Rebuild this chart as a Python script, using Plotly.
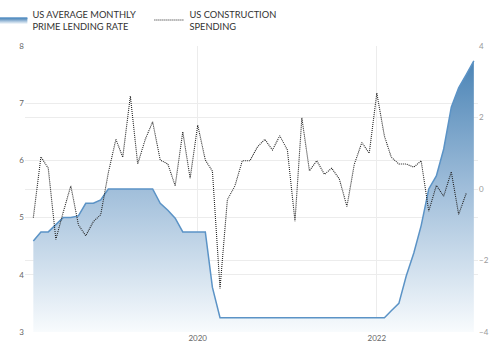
import pandas as pd
import plotly.graph_objects as go

# Monthly dates (Mar 2018 .. Feb 2023)
prime_dates = pd.date_range("2018-03-01", "2023-02-01", freq="MS")
constr_dates = pd.date_range("2018-03-01", "2023-01-01", freq="MS")

prime_rate = [
    4.59, 4.75, 4.75, 4.88, 5.00, 5.00, 5.03, 5.25, 5.25, 5.31,
    5.50, 5.50, 5.50, 5.50, 5.50, 5.50, 5.50, 5.25, 5.13, 4.99, 4.75, 4.75,
    4.75, 4.75, 3.78, 3.25, 3.25, 3.25, 3.25, 3.25, 3.25, 3.25, 3.25, 3.25,
    3.25, 3.25, 3.25, 3.25, 3.25, 3.25, 3.25, 3.25, 3.25, 3.25, 3.25, 3.25,
    3.25, 3.25, 3.37, 3.50, 3.98, 4.38, 4.86, 5.50, 5.73, 6.20, 6.93, 7.27,
    7.50, 7.74,
]

construction = [
    -0.80, 0.90, 0.58, -1.41, -0.65, 0.09, -1.00, -1.31, -0.91, -0.72,
    0.45, 1.39, 0.89, 2.60, 0.70, 1.39, 1.88, 0.81, 0.70, 0.09, 1.60, 0.30,
    1.79, 0.81, 0.50, -2.78, -0.30, 0.09, 0.79, 0.79, 1.18, 1.39, 1.09, 1.49,
    1.09, -0.90, 1.99, 0.51, 0.79, 0.41, 0.58, 0.28, -0.49, 0.69, 1.30, 1.00,
    2.68, 1.48, 0.89, 0.70, 0.70, 0.61, 0.79, -0.62, 0.10, -0.20, 0.48, -0.71,
    -0.12,
]

prime_name = "US AVERAGE MONTHLY<br>PRIME LENDING RATE"
constr_name = "US CONSTRUCTION<br>SPENDING"

fig = go.Figure()
fig.add_trace(go.Scatter(
    x=prime_dates, y=prime_rate, name=prime_name, mode="lines",
    line=dict(color="#5b93c6", width=1.5),
    fill="tozeroy",
    fillgradient=dict(
        type="vertical", start=3, stop=8,
        colorscale=[[0, "rgba(248,251,253,1)"], [0.5, "rgba(160,190,218,1)"], [1, "rgba(66,126,178,1)"]],
    ),
    yaxis="y", hoverinfo="skip",
))
fig.add_trace(go.Scatter(
    x=constr_dates, y=construction, name=constr_name, mode="lines",
    line=dict(color="#222222", width=1.1, dash="1px,1px"),
    yaxis="y2", hoverinfo="skip",
))

grid = "#ececec"
fig.update_layout(
    width=500, height=362,
    margin=dict(l=25, r=22, t=46, b=30, autoexpand=False),
    paper_bgcolor="white", plot_bgcolor="white",
    font=dict(family="Lato, 'Open Sans', sans-serif", color="#555"),
    showlegend=True,
    hovermode=False,
    legend=dict(
        orientation="h", x=-0.072, xanchor="left", y=1.156, yanchor="top",
        font=dict(size=9.3, color="#333"),
        entrywidth=112, entrywidthmode="pixels",
        itemwidth=30, bgcolor="rgba(0,0,0,0)",
    ),
    xaxis=dict(
        type="date", range=["2018-01-26", "2023-02-18"],
        tick0="2020-01-01", dtick="M24", tickformat="%Y",
        showgrid=True, gridcolor=grid, gridwidth=1,
        showline=False, zeroline=False, ticks="",
        tickfont=dict(size=8, color="#666"),
    ),
    yaxis=dict(
        range=[3, 8], dtick=1, showgrid=True, gridcolor=grid,
        zeroline=False, showline=False, ticks="",
        tickfont=dict(size=8, color="#666"),
    ),
    yaxis2=dict(
        range=[-4, 4], dtick=2, overlaying="y", side="right",
        showgrid=True, gridcolor=grid, zeroline=False, showline=False, ticks="",
        tickfont=dict(size=8, color="#999"),
    ),
)

fig.write_html("out.html", config={"displayModeBar": False},
               post_script="document.body.style.margin='0px';")
